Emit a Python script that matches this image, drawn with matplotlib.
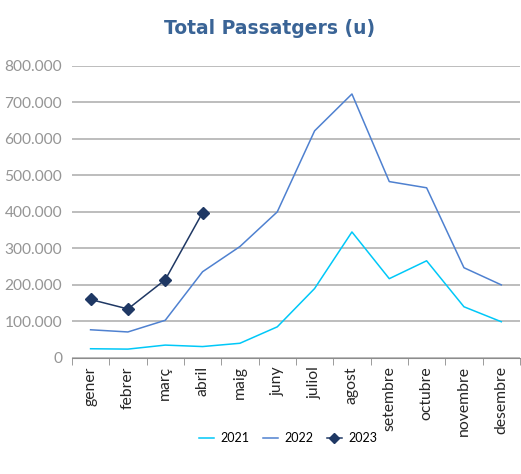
import matplotlib.pyplot as plt
import matplotlib.ticker as mticker
import numpy as np

plt.rcParams['font.family'] = ['Lato', 'DejaVu Sans']

# dades
mesos = ['gener', 'febrer', 'març', 'abril', 'maig', 'juny', 'juliol',
         'agost', 'setembre', 'octubre', 'novembre', 'desembre']
pax_2021 = [25000, 24000, 35000, 31000, 40000, 85000, 190000, 345000,
            217000, 266000, 140000, 99000]
pax_2022 = [77000, 71000, 103000, 236000, 305000, 400000, 622000, 723000,
            483000, 466000, 247000, 200000]
pax_2023 = [160000, 134000, 214000, 398000]

fig = plt.figure(figsize=(5.21, 4.74), dpi=100)
ax = fig.add_axes([0.138, 0.245, 0.86, 0.616])

x = np.arange(len(mesos))
ax.plot(x, pax_2021, color='#00C8F8', lw=1.1, label='2021')
ax.plot(x, pax_2022, color='#4F81D0', lw=1.1, label='2022')
ax.plot(x[:len(pax_2023)], pax_2023, color='#1F3864', lw=1.1,
        marker='D', ms=6, label='2023')

ax.set_xlim(-0.5, 11.5)
ax.set_ylim(0, 800000)
ax.yaxis.set_major_locator(mticker.MultipleLocator(100000))
ax.yaxis.set_major_formatter(mticker.FuncFormatter(
    lambda v, p: '{:,.0f}'.format(v).replace(',', '.')))
ax.grid(axis='y', color='#ABABAB', lw=1.1)
ax.set_axisbelow(True)

ax.set_xticks(x)
ax.set_xticklabels(mesos, rotation=90, ha='center', va='top',
                   fontsize=11.3, color='#262626')
ax.tick_params(axis='x', which='major', length=0, pad=6)
ax.set_xticks(np.arange(-0.5, 12, 1), minor=True)
ax.tick_params(axis='x', which='minor', length=5, color='#8C8C8C', direction='out')
ax.tick_params(axis='y', length=0, labelsize=11.2, labelcolor='#959595', pad=7)

for s in ['left', 'right', 'top']:
    ax.spines[s].set_visible(False)
ax.spines['bottom'].set_color('#8C8C8C')

fig.text(0.518, 0.94, 'Total Passatgers (u)', ha='center', va='center',
         fontsize=13.5, fontweight='bold', color='#3A6496', family='DejaVu Sans')

fig.legend(loc='center', bbox_to_anchor=(0.553, 0.075), ncol=3, frameon=False,
           fontsize=9, handlelength=1.2, columnspacing=1.1, handletextpad=0.5,
           markerscale=0.9)

fig.savefig('out.png', dpi=100)
